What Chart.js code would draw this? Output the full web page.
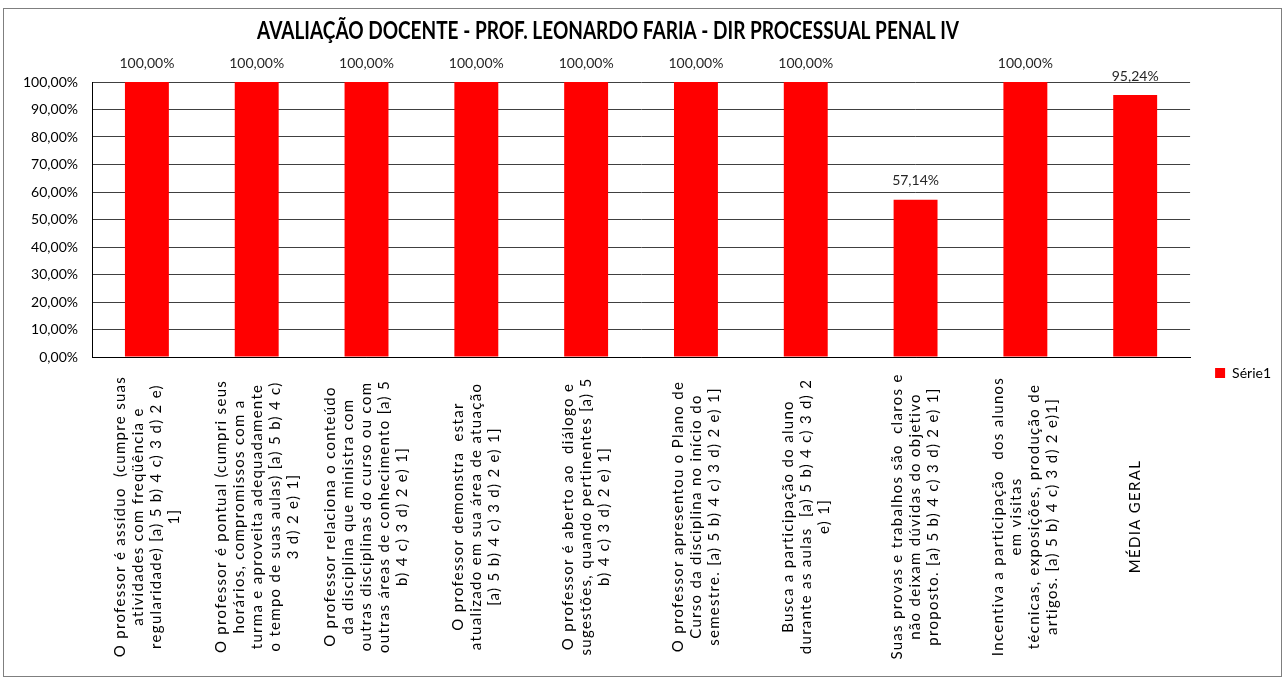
<!DOCTYPE html>
<html>
<head>
<meta charset="utf-8">
<script src="https://cdn.jsdelivr.net/npm/chart.js@4"></script>
<style>
  html, body { margin: 0; padding: 0; background: #fff; }
  #box { position: absolute; left: 3px; top: 8px; width: 1279px; height: 669px;
         box-sizing: border-box; border: 1px solid #7f7f7f; }
</style>
</head>
<body>
<div id="box"><canvas id="grafico"></canvas></div>
<script>
var titulo = "AVALIAÇÃO DOCENTE - PROF. LEONARDO FARIA - DIR PROCESSUAL PENAL IV";
var perguntas = [
  ["O professor é assíduo  (cumpre suas", "atividades com freqüência e", "regularidade) [a) 5 b) 4 c) 3 d) 2 e)", "1]"],
  ["O professor é pontual (cumpri seus", "horários, compromissos com a", "turma e aproveita adequadamente", "o tempo de suas aulas) [a) 5 b) 4 c)", "3 d) 2 e) 1]"],
  ["O professor relaciona o conteúdo", "da disciplina que ministra com", "outras disciplinas do curso ou com", "outras áreas de conhecimento [a) 5", "b) 4 c) 3 d) 2 e) 1]"],
  ["O professor demonstra  estar", "atualizado em sua área de atuação", "[a) 5 b) 4 c) 3 d) 2 e) 1]"],
  ["O professor é aberto ao  diálogo e", "sugestões, quando pertinentes [a) 5", "b) 4 c) 3 d) 2 e) 1]"],
  ["O professor apresentou o Plano de", "Curso da disciplina no início do", "semestre. [a) 5 b) 4 c) 3 d) 2 e) 1]"],
  ["Busca a participação do aluno", "durante as aulas  [a) 5 b) 4 c) 3 d) 2", "e) 1]"],
  ["Suas provas e trabalhos são  claros e", "não deixam dúvidas do objetivo", "proposto. [a) 5 b) 4 c) 3 d) 2 e) 1]"],
  ["Incentiva a participação  dos alunos", "em visitas", "técnicas, exposições, produção de", "artigos. [a) 5 b) 4 c) 3 d) 2 e)1]"],
  ["MÉDIA GERAL"]
];
var serie1 = [100, 100, 100, 100, 100, 100, 100, 57.14, 100, 95.24];
var nomeSerie = "Série1";

function pct(v) { return v.toFixed(2).replace('.', ',') + '%'; }

// titulo, rotulos das barras e das categorias desenhados a mao
var extras = {
  id: 'extras',
  afterDraw: function(chart) {
    var ctx = chart.ctx;
    var area = chart.chartArea;
    ctx.save();
    ctx.fillStyle = '#000';
    ctx.font = 'bold 25px Lato, sans-serif';
    ctx.textAlign = 'center';
    ctx.textBaseline = 'middle';
    // titulo estreito como no original
    ctx.fillText(titulo, (area.left + area.right) / 2 - 33, 22, 702);

    ctx.fillStyle = '#262626';
    ctx.font = '14px Lato, sans-serif';
    var meta = chart.getDatasetMeta(0);
    meta.data.forEach(function(bar, i) {
      ctx.fillText(pct(serie1[i]), bar.x, bar.y - 19);
    });

    var xs = chart.scales.x;
    var meio = (xs.top + chart.height) / 2;
    ctx.fillStyle = '#000';
    ctx.font = '15px Lato, sans-serif';
    ctx.letterSpacing = '1.3px';
    perguntas.forEach(function(linhas, i) {
      var cx = xs.getPixelForValue(i);
      var alt = 18;
      var x0 = cx - (linhas.length - 1) * alt / 2;
      linhas.forEach(function(t, j) {
        ctx.save();
        ctx.translate(x0 + j * alt, meio);
        ctx.rotate(-Math.PI / 2);
        ctx.fillText(t, 0, 0);
        ctx.restore();
      });
    });
    ctx.restore();
  }
};

new Chart(document.getElementById('grafico'), {
  type: 'bar',
  data: {
    labels: perguntas,
    datasets: [{
      label: nomeSerie,
      data: serie1,
      backgroundColor: '#ff0000',
      borderWidth: 0,
      barPercentage: 0.4,
      categoryPercentage: 1
    }]
  },
  options: {
    responsive: true,
    maintainAspectRatio: false,
    animation: false,
    layout: { padding: { top: 73, right: 0, bottom: 12, left: 0 } },
    plugins: {
      title: { display: false },
      tooltip: { enabled: false },
      legend: {
        position: 'right',
        labels: {
          boxWidth: 10,
          boxHeight: 10,
          padding: 25,
          color: '#000',
          font: { family: 'Lato', size: 14 }
        }
      }
    },
    scales: {
      x: {
        grid: { display: false },
        border: { color: '#000' },
        ticks: { display: false },
        afterFit: function(s) { s.height = 307; }
      },
      y: {
        min: 0,
        max: 100,
        ticks: {
          stepSize: 10,
          padding: 14,
          color: '#000',
          font: { family: 'Lato', size: 14 },
          callback: function(v) { return pct(v); }
        },
        grid: { color: '#404040', drawTicks: false },
        border: { color: '#000' },
        afterFit: function(s) { s.width = 88; }
      }
    }
  },
  plugins: [extras]
});
</script>
</body>
</html>
